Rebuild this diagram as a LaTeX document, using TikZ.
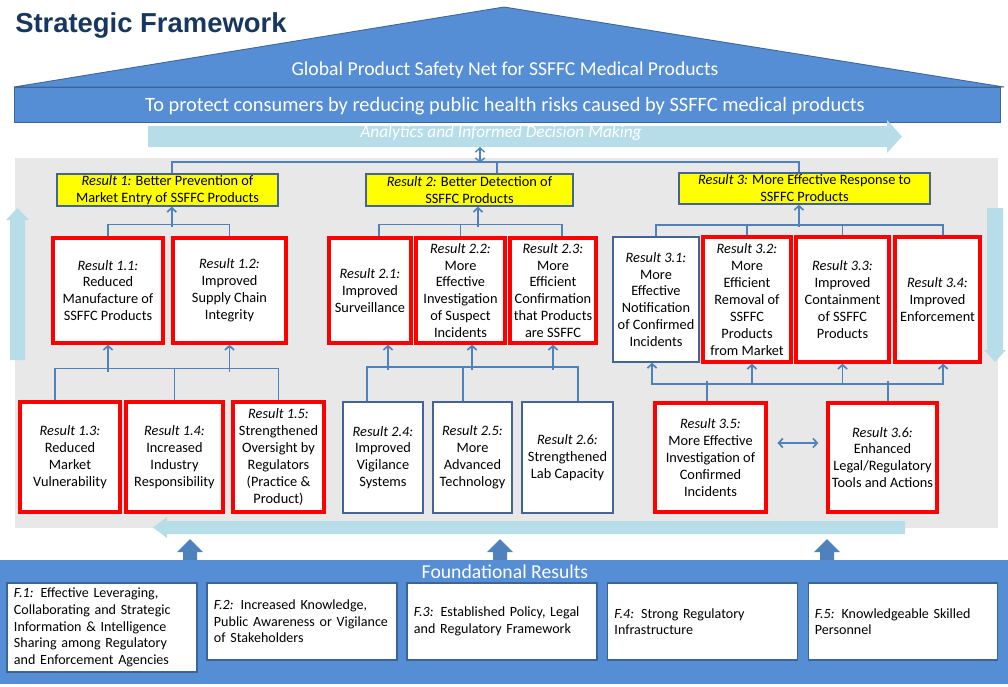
\documentclass[tikz,border=0pt]{standalone}
\usepackage{fontspec}
\setmainfont{Carlito}
\newfontfamily\headfont{Liberation Sans}
\usetikzlibrary{arrows.meta}

\definecolor{roofblue}{RGB}{85,142,213}
\definecolor{roofedge}{RGB}{60,100,150}
\definecolor{linkblue}{RGB}{79,129,189}
\definecolor{flowblue}{RGB}{183,221,232}
\definecolor{panelgray}{RGB}{232,232,232}
\definecolor{titlenavy}{RGB}{23,55,94}
\definecolor{resred}{RGB}{255,0,0}
\definecolor{subblue}{RGB}{68,100,150}
\definecolor{goalyellow}{RGB}{255,255,0}

\begin{document}
\begin{tikzpicture}[x=0.025cm, y=-0.025cm,
    res/.style={draw=resred, line width=2.3pt, fill=white, align=center, inner sep=1pt, font=\fontsize{10.2}{12}\selectfont},
    sub/.style={res, draw=subblue, line width=1pt},
    goal/.style={draw=subblue, line width=1pt, fill=goalyellow, align=center, inner sep=1pt, font=\fontsize{10.2}{12}\selectfont},
    found/.style={draw=roofedge, line width=0.8pt, fill=white, align=left, inner xsep=0.17cm, text width=4.4cm, font=\fontsize{10}{11.8}\selectfont},
    banner/.style={text=white, inner sep=0pt},
    link/.style={draw=linkblue, line width=1.2pt},
    >={Straight Barb[length=3pt,width=6.5pt]}
]
\useasboundingbox (0,0) rectangle (1008,686);

\node[anchor=base west, inner sep=0pt, text=titlenavy, font=\headfont\bfseries\fontsize{19.5}{22}\selectfont] (title) at (15,32) {Strategic Framework};

% roof and mission bar
\filldraw[fill=roofblue, draw=roofedge, line width=0.6pt] (14,87) -- (504,7) -- (1004,87) -- cycle;
\filldraw[fill=roofblue, draw=roofedge, line width=0.6pt] (14,87) rectangle (1000,122);
\node[banner, font=\fontsize{14}{16}\selectfont] (net) at (505,70) {Global Product Safety Net for SSFFC Medical Products};
\node[banner, font=\fontsize{14.5}{16}\selectfont] (aim) at (505,106) {To protect consumers by reducing public health risks caused by SSFFC medical products};

\fill[flowblue] (148,126) -- (887,126) -- (887,120) -- (902,136.5) -- (887,153) -- (887,147) -- (148,147) -- cycle;
\node[banner, font=\itshape\fontsize{12.3}{14}\selectfont] (ana) at (501,133) {Analytics and Informed Decision Making};

% results panel
\fill[panelgray] (15,158) rectangle (998,528);
\fill[flowblue] (10,360) -- (10,220) -- (6,220) -- (17.5,208) -- (29,220) -- (25,220) -- (25,360) -- cycle;
\fill[flowblue] (987,208) -- (987,350) -- (984,350) -- (995,362) -- (1006,350) -- (1003,350) -- (1003,208) -- cycle;
\fill[flowblue] (905,521) -- (167,521) -- (167,517) -- (153,527.5) -- (167,538) -- (167,534) -- (905,534) -- cycle;

\node[goal, minimum width=5.525cm, minimum height=0.8cm] (r1) at (167.5,190) {\textit{Result 1:} Better Prevention of\\Market Entry of SSFFC Products};
\node[goal, minimum width=5.175cm, minimum height=0.8cm] (r2) at (469.5,190) {\textit{Result 2:} Better Detection of\\SSFFC Products};
\node[goal, minimum width=6.275cm, minimum height=0.775cm] (r3) at (804.5,188.5) {\textit{Result 3:} More Effective Response to\\SSFFC Products};

\node[res, minimum width=2.75cm, minimum height=2.625cm] (r11) at (108,290.5) {\textit{Result 1.1:}\\Reduced\\Manufacture of\\SSFFC Products};
\node[res, minimum width=2.825cm, minimum height=2.625cm] (r12) at (229.5,290.5) {\textit{Result 1.2:}\\Improved\\Supply Chain\\Integrity};
\node[res, minimum width=2.5cm, minimum height=2.75cm] (r13) at (70,457) {\textit{Result 1.3:}\\Reduced\\Market\\Vulnerability};
\node[res, minimum width=2.425cm, minimum height=2.75cm] (r14) at (174.5,457) {\textit{Result 1.4:}\\Increased\\Industry\\Responsibility};
\node[res, minimum width=2.275cm, minimum height=2.75cm] (r15) at (278.5,457) {\textit{Result 1.5:}\\Strengthened\\Oversight by\\Regulators\\(Practice \&\\Product)};

\node[res, minimum width=2.05cm, minimum height=2.625cm] (r21) at (370,290.5) {\textit{Result 2.1:}\\Improved\\Surveillance};
\node[res, minimum width=2.225cm, minimum height=2.625cm] (r22) at (460.5,290.5) {\textit{Result 2.2:}\\More\\Effective\\Investigation\\of Suspect\\Incidents};
\node[res, minimum width=2.15cm, minimum height=2.625cm] (r23) at (553,290.5) {\textit{Result 2.3:}\\More\\Efficient\\Confirmation\\that Products\\are SSFFC};
\node[sub, minimum width=2cm, minimum height=2.775cm] (r24) at (383,457.5) {\textit{Result 2.4:}\\Improved\\Vigilance\\Systems};
\node[sub, minimum width=1.975cm, minimum height=2.775cm] (r25) at (472.5,457.5) {\textit{Result 2.5:}\\More\\Advanced\\Technology};
\node[sub, minimum width=2.275cm, minimum height=2.775cm] (r26) at (567.5,457.5) {\textit{Result 2.6:}\\Strengthened\\Lab Capacity};

\node[sub, minimum width=2.15cm, minimum height=3.125cm] (r31) at (656,299.5) {\textit{Result 3.1:}\\More\\Effective\\Notification\\of Confirmed\\Incidents};
\node[res, minimum width=2.2cm, minimum height=3.125cm] (r32) at (747,299.5) {\textit{Result 3.2:}\\More\\Efficient\\Removal of\\SSFFC\\Products\\from Market};
\node[res, minimum width=2.325cm, minimum height=3.125cm] (r33) at (842.5,299.5) {\textit{Result 3.3:}\\Improved\\Containment\\of SSFFC\\Products};
\node[res, minimum width=2.125cm, minimum height=3.125cm] (r34) at (937.5,299.5) {\textit{Result 3.4:}\\Improved\\Enforcement};
\node[res, minimum width=2.775cm, minimum height=2.725cm] (r35) at (710.5,457.5) {\textit{Result 3.5:}\\More Effective\\Investigation of\\Confirmed\\Incidents};
\node[res, minimum width=2.725cm, minimum height=2.725cm] (r36) at (882.5,457.5) {\textit{Result 3.6:}\\Enhanced\\Legal/Regulatory\\Tools and Actions};

% links between the results
\coordinate (fork) at (480,163);
\draw[link] ([xshift=3pt]r1.north) -- ++(0,-11) -| ([xshift=-4pt]r3.north);
\draw[link] ([xshift=19.5pt]r2.north) -- ++(0,-11);
\draw[link, <->, line width=1pt] (fork) -- ++(0,-16);

\draw[link, <-] ([xshift=3pt]r1.south) -- ++(0,20);
\draw[link] (r11.north) -- ++(0,-12) -| (r12.north);
\draw[link] ([xshift=-10.6pt]r13.north) -- ++(0,-32) -| (r15.north);
\draw[link] (r14.north) -- ++(0,-32);
\draw[link, <-] (r11.south) -- ++(0,27);
\draw[link, <-] (r12.south) -- ++(0,27);

\draw[link, <-] ([xshift=6pt]r2.south) -- ++(0,20);
\draw[link] ([xshift=6.4pt]r21.north) -- ++(0,-12) -| ([xshift=6.4pt]r23.north);
\draw[link] (r22.north) -- ++(0,-12);
\draw[link] ([xshift=-11.3pt]r24.north) -- ++(0,-34) -| ([xshift=7.4pt]r26.north);
\draw[link] ([xshift=-6.7pt]r25.north) -- ++(0,-34);
\draw[link, <-] ([xshift=12.8pt]r21.south) -- ++(0,25);
\draw[link, <-] ([xshift=8.2pt]r22.south) -- ++(0,25);
\draw[link, <-] (r23.south) -- ++(0,25);

\draw[link, <-] ([xshift=-4pt]r3.south) -- ++(0,22);
\draw[link] (r31.north) -- ++(0,-11) -| ([xshift=4pt]r34.north);
\draw[link] (r32.north) -- ++(0,-11);
\draw[link] (r33.north) -- ++(0,-11);
\draw[link, <->] ([xshift=-2.8pt]r31.south) -- ++(0,21) -| ([xshift=4pt]r34.south);
\draw[link, <-] ([xshift=3.5pt]r32.south) -- ++(0,21);
\draw[link, <-] (r33.south) -- ++(0,21);
\draw[link] ([xshift=-2.5pt]r35.north) -- ++(0,-20);
\draw[link] ([xshift=3.9pt]r36.north) -- ++(0,-20);
\draw[link, <->] ([xshift=7pt,yshift=10.3pt]r35.east) -- ([xshift=-5.7pt,yshift=10.3pt]r36.west);

% foundation
\foreach \x in {190,500,827}
  \fill[linkblue] (\x-7,560) -- (\x-7,552) -- (\x-13,552) -- (\x,539) -- (\x+13,552) -- (\x+7,552) -- (\x+7,560) -- cycle;
\fill[roofblue] (0,560) rectangle (1008,684);
\node[banner, font=\fontsize{14}{16}\selectfont] (fr) at (505,572) {Foundational Results};

\node[found, minimum width=4.75cm, minimum height=2.225cm] (f1) at (102,627.5) {\textit{F.1:} Effective Leveraging,\\Collaborating and Strategic\\Information \& Intelligence\\Sharing among Regulatory\\and Enforcement Agencies};
\node[found, minimum width=4.75cm, minimum height=1.925cm] (f2) at (302,621.5) {\textit{F.2:} Increased Knowledge,\\Public Awareness or Vigilance\\of Stakeholders};
\node[found, minimum width=4.75cm, minimum height=1.925cm] (f3) at (502,621.5) {\textit{F.3:} Established Policy, Legal\\and Regulatory Framework};
\node[found, minimum width=4.725cm, minimum height=1.925cm] (f4) at (702.5,621.5) {\textit{F.4:} Strong Regulatory\\Infrastructure};
\node[found, minimum width=4.7cm, minimum height=1.925cm] (f5) at (903,621.5) {\textit{F.5:} Knowledgeable Skilled\\Personnel};

\end{tikzpicture}
\end{document}
